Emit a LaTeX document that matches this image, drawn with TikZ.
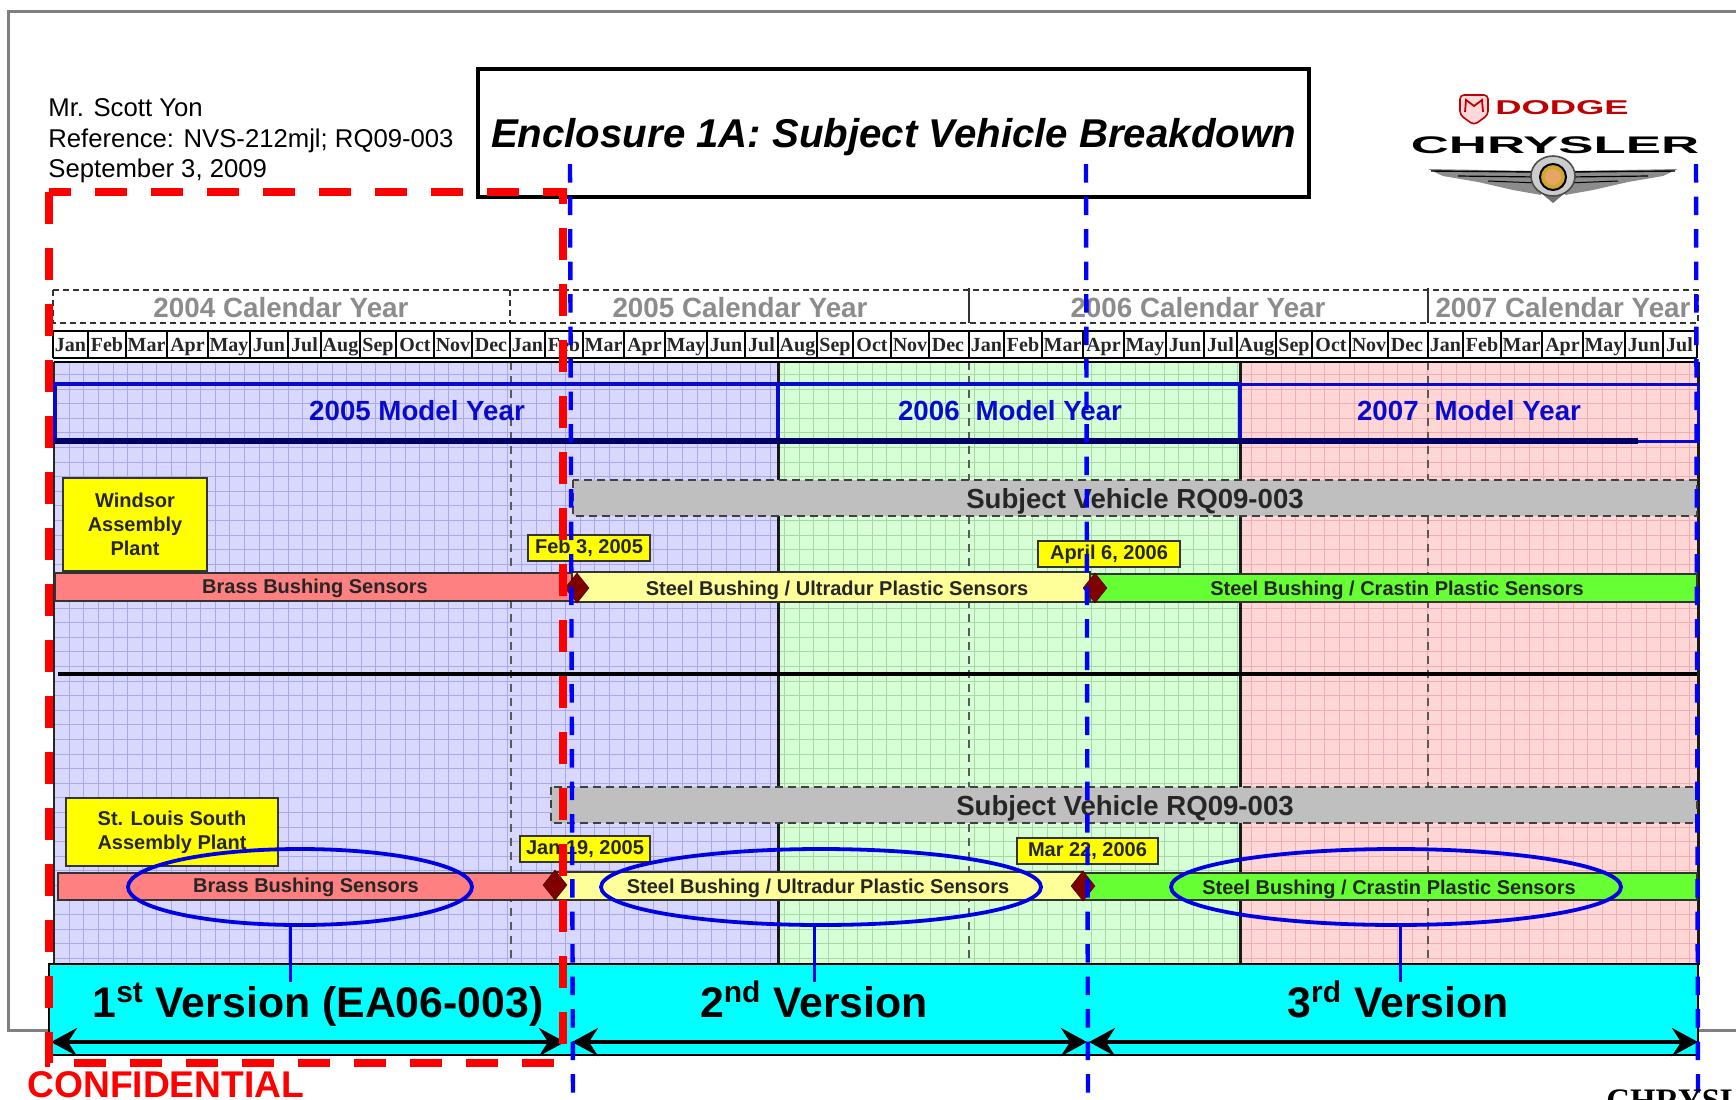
\documentclass[tikz,border=0pt]{standalone}
\usepackage{xcolor}
\usepackage{fontspec}
\setmainfont{Liberation Sans}
\newfontfamily\monthfont{Liberation Serif}
\usetikzlibrary{arrows.meta,calc,positioning,shapes.geometric}
\definecolor{bandblue}{HTML}{D8D8FF}
\definecolor{bandgreen}{HTML}{D6FFD6}
\definecolor{bandpink}{HTML}{FFD6D6}
\definecolor{gridblue}{HTML}{A9A9E6}
\definecolor{gridgreen}{HTML}{A8D8A8}
\definecolor{gridpink}{HTML}{EFAEB4}
\definecolor{barred}{HTML}{FF8080}
\definecolor{baryellow}{HTML}{FFFF99}
\definecolor{bargreen}{HTML}{66FF33}
\definecolor{modelblue}{HTML}{0A0ACC}
\definecolor{pureyellow}{HTML}{FFFF00}
\definecolor{purecyan}{HTML}{00FFFF}
\definecolor{purered}{HTML}{FF0000}
\definecolor{pureblue}{HTML}{0000FF}
\newcommand{\fs}[1]{\fontsize{#1}{#1}\selectfont}
\begin{document}
\begin{tikzpicture}[x=.5pt,y=-.5pt,>=Stealth]
\tikzset{bar/.style={draw=black!80,line width=.9pt},
barlabel/.style={font=\fs{10}\bfseries,text=black!85,inner sep=0pt},
datebox/.style={draw=black!80,fill=pureyellow,line width=.8pt,inner sep=0pt,minimum width=#1,minimum height=13pt,font=\fs{10}\bfseries,text=black!85},
plantbox/.style={draw=black!80,fill=pureyellow,line width=.9pt,inner sep=0pt,align=center,font=\fs{10}\bfseries,text=black!85},
subject/.style={draw=black!75,fill=black!25,dash pattern=on 4pt off 2.5pt,line width=.8pt},
subjectlabel/.style={font=\fs{13.8}\bfseries,text=black!85,inner sep=0pt},
milestone/.style={diamond,draw=black!40!red!50!black,fill=red!50!black,inner sep=0pt,minimum width=12pt,minimum height=15pt,line width=.3pt},
oval/.style={ellipse,draw=blue!90!black,line width=1.9pt,inner sep=0pt,minimum height=38pt},
stem/.style={draw=blue!90!black,line width=1.5pt},
yearlabel/.style={font=\fs{13.9}\bfseries,text=black!45,inner sep=0pt},
modellabel/.style={font=\fs{13.85}\bfseries,text=modelblue,inner sep=0pt},
versionlabel/.style={font=\fs{21.4}\bfseries,inner sep=0pt,text height=15.5pt,text depth=5pt},
span/.style={<->,>={Stealth[length=13pt,width=14pt,inset=4.5pt]},line width=2pt},
bluecut/.style={draw=pureblue,line width=2.2pt,dash pattern=on 9.25pt off 7pt},
redcut/.style={draw=purered,line width=3.6pt}}
\useasboundingbox (0,0) rectangle (1736,1099);
\fill[white] (0,0) rectangle (1736,1099);
\draw[black!50,line width=1.5pt] (1740,11)--(8,11)--(8,1030)--(1740,1030);

% letter head
\node[anchor=west,inner sep=0pt,align=left,font=\fs{12.85}] (head) at (48,141) {Mr. Scott Yon\\[2.4pt]Reference: NVS-212mjl; RQ09-003\\[2.4pt]September 3, 2009};
\draw[black,line width=1.8pt] (478,69) rectangle (1309,197);
\node[inner sep=0pt,font=\fs{20.1}\bfseries\itshape] (title) at (893.5,137) {Enclosure 1A: Subject Vehicle Breakdown};

% logos
\fill[red!15,draw=red!75!black,line width=.8pt,rounded corners=2pt] (1460,95)--(1488,95)--(1488,115)--(1474,125)--(1460,115)--cycle;
\draw[red!75!black,line width=.9pt] (1465,112)--(1466,100)--(1474,106)--(1482,100)--(1483,112);
\node[xscale=1.82,font=\fs{10}\bfseries,text=red!75!black,inner sep=0pt] (dodge) at (1562,108) {DODGE};
\node[xscale=2.2,font=\fs{12}\bfseries,text=black,inner sep=0pt] (chrysler) at (1555,145) {CHRYSLER};
\foreach \s in {-1,1}{\begin{scope}[shift={(1553,0)},xscale=\s]
\fill[black!45] (15,171)--(125,169)--(110,176)--(75,182)--(40,190)--(12,195)--cycle;
\draw[black,line width=.7pt] (15,172)--(122,171);\draw[black,line width=.6pt] (15,177)--(95,176);\draw[black,line width=.5pt] (15,183)--(65,181);
\end{scope}}
\fill[black!55] (1535,188)--(1553,203)--(1571,188)--cycle;
\draw[black!70,fill=black!20,line width=.8pt] (1553,176) ellipse (22 and 20);
\draw[black,fill=brown!70!yellow,line width=1pt] (1553,177) circle (13);
\fill[orange!40!brown!70] (1553,177) circle (8);

% calendar rows
\draw[black!80,line width=.8pt,dash pattern=on 3pt off 2pt] (53,290) rectangle (1698,323);
\draw[black!80,line width=.8pt,dash pattern=on 3pt off 2pt] (510,290)--(510,323);
\foreach \x in {969,1428}{\draw[black!80,line width=.8pt] (\x,288)--(\x,323);}
\node[yearlabel] (y2004) at (281,308) {2004 Calendar Year};
\node[yearlabel] (y2005) at (740,308) {2005 Calendar Year};
\node[yearlabel] (y2006) at (1198,308) {2006 Calendar Year};
\node[yearlabel] (y2007) at (1563,308) {2007 Calendar Year};
\draw[black,line width=.8pt] (53,331)--(1697,331);
\foreach \y/\n in {53/12,510/12,969/12,1428/7}{
\foreach \m/\a/\b [count=\k] in {Jan/0/35,Feb/35/73,Mar/73/114,Apr/114/155,May/155/197,Jun/197/235,Jul/235/268,Aug/268/307,Sep/307/343,Oct/343/381,Nov/381/419,Dec/419/457}{
\ifnum\k>\n\else
\draw[black,line width=.7pt] ({\y+\a},331)--({\y+\a},358);
\node[font=\monthfont\fs{10}\bfseries,text=black!85,inner sep=0pt,text height=6.8pt,text depth=2pt] (m\y\m) at ({\y+(\a+\b)/2},347) {\m};
\fi
}}
\draw[black,line width=.7pt] (1697,331)--(1697,358);
\draw[black,line width=1.3pt] (53,358)--(1697,358);

% model year bands
\foreach \xa/\xb/\bg/\gr in {54/778/bandblue/gridblue,778/1240/bandgreen/gridgreen,1240/1698/bandpink/gridpink}{
\begin{scope}
\clip (\xa,362) rectangle (\xb,965);
\fill[\bg] (\xa,362) rectangle (\xb,965);
\foreach \gx in {54.7,69.3,...,1700}{\draw[\gr,line width=.5pt] (\gx,362)--(\gx,965);}
\foreach \gy in {359.9,374.5,...,970}{\draw[\gr,line width=.5pt] (\xa,\gy)--(\xb,\gy);}
\end{scope}}
\foreach \x in {511,969,1428}{\draw[black!65,line width=.7pt,dash pattern=on 4pt off 3pt] (\x,362)--(\x,965);}
\draw[black!85,line width=1.1pt] (54,362)--(54,965);
\foreach \x in {778,1240,1698}{\draw[black!90,line width=1.5pt] (\x,362)--(\x,965);}
\draw[black,line width=.6pt] (54,362)--(1698,362);
\draw[modelblue,line width=1.7pt] (55,384) rectangle (778,441);
\draw[modelblue,line width=1.7pt] (778,384) rectangle (1240,441);
\draw[modelblue,line width=1.5pt] (1240,384) rectangle (1698,441);
\draw[black!60!blue,line width=2.6pt] (55,441)--(1638,441);
\node[modellabel] (m2005) at (417,411) {2005 Model Year};
\node[modellabel] (m2006) at (1010,411) {2006\hspace{8pt}Model Year};
\node[modellabel] (m2007) at (1469,411) {2007\hspace{8pt}Model Year};

% Windsor
\node[plantbox,minimum width=72pt,minimum height=46.5pt] (windsor) at (135,524.5) {Windsor\\[2pt]Assembly\\[2pt]Plant};
\draw[subject] (573,480) rectangle (1697,516);
\node[subjectlabel] (subjecta) at (1135,501) {Subject Vehicle RQ09-003};
\draw[bar,fill=barred] (55,573) rectangle (572,601);
\draw[bar,fill=baryellow] (572,572) rectangle (1090,602);
\draw[bar,fill=bargreen] (1090,574) rectangle (1697,602);
\node[barlabel] (brassa) at (315,588) {Brass Bushing Sensors};
\node[barlabel] (ultraa) at (837,590) {Steel Bushing / Ultradur Plastic Sensors};
\node[barlabel] (crasta) at (1397,590) {Steel Bushing / Crastin Plastic Sensors};
\node[milestone] (diaa) at (577,588) {};
\node[milestone] (diab) at (1095,588) {};
\node[datebox=61pt] (datea) at (589,548) {Feb 3, 2005};
\node[datebox=71pt] (dateb) at (1109,554) {April 6, 2006};
\draw[black,line width=2pt] (58,674)--(1697,674);

% St. Louis
\node[plantbox,minimum width=106pt,minimum height=34pt] (stlouis) at (172,832) {St. Louis South\\[2pt]Assembly Plant};
\draw[subject] (551,787) rectangle (1697,823);
\node[subjectlabel] (subjectb) at (1125,808) {Subject Vehicle RQ09-003};
\draw[bar,fill=barred] (58,873) rectangle (555,900);
\draw[bar,fill=baryellow] (555,872) rectangle (1083,900);
\draw[bar,fill=bargreen] (1083,873) rectangle (1697,900);
\node[barlabel] (brassb) at (306,887) {Brass Bushing Sensors};
\node[barlabel] (ultrab) at (818,888) {Steel Bushing / Ultradur Plastic Sensors};
\node[barlabel] (crastb) at (1389,889) {Steel Bushing / Crastin Plastic Sensors};
\node[milestone] (diac) at (555,885) {};
\node[milestone] (diad) at (1083,886) {};
\node[datebox=65pt] (datec) at (585,849) {Jan 19, 2005};
\node[datebox=70.5pt] (dated) at (1087.5,851) {Mar 22, 2006};

% versions
\draw[black,fill=purecyan,line width=1.2pt] (49,964) rectangle (1698,1055);
\node[oval,minimum width=172pt] (ova) at (300,887) {};
\node[oval,minimum width=220pt] (ovb) at (821,887) {};
\node[oval,minimum width=225pt] (ovc) at (1396,887) {};
\coordinate (stema) at (290,982);
\coordinate (stemb) at (814,982);
\coordinate (stemc) at (1400,982);
\draw[stem] (stema|-ova.south)--(stema);
\draw[stem] (stemb|-ovb.south)--(stemb);
\draw[stem] (stemc|-ovc.south)--(stemc);
\node[versionlabel] (vera) at (318,1007) {1\textsuperscript{st} Version (EA06-003)};
\node[versionlabel] (verb) at (814,1007) {2\textsuperscript{nd} Version};
\node[versionlabel] (verc) at (1398,1007) {3\textsuperscript{rd} Version};
\coordinate (ta) at (51,1042);\coordinate (tb) at (565,1042);
\coordinate (tc) at (572,1042);\coordinate (td) at (1087,1042);
\coordinate (te) at (1089,1042);\coordinate (tf) at (1698,1042);
\draw[span] (ta)--(tb);
\draw[span] (tc)--(td);
\draw[span] (te)--(tf);

% marked ranges
\draw[bluecut] (570,164)--(573,1099);
\draw[bluecut] (1086,164)--(1088,1099);
\draw[bluecut] (1696,164)--(1698,1099);
\draw[redcut,dash pattern=on 16pt off 12pt,dash phase=5pt] (49,192)--(563,192)--(563,1045);
\draw[redcut,dash pattern=on 16pt off 12pt] (49,192)--(49,1063)--(555,1063);

\node[anchor=west,inner sep=0pt,font=\fs{18.6}\bfseries,text=purered] (conf) at (27,1085) {CONFIDENTIAL};
\node[anchor=north west,inner sep=0pt,font=\monthfont\fs{16.4}\bfseries] (owner) at (1606,1089) {CHRYSL};
\end{tikzpicture}
\end{document}
